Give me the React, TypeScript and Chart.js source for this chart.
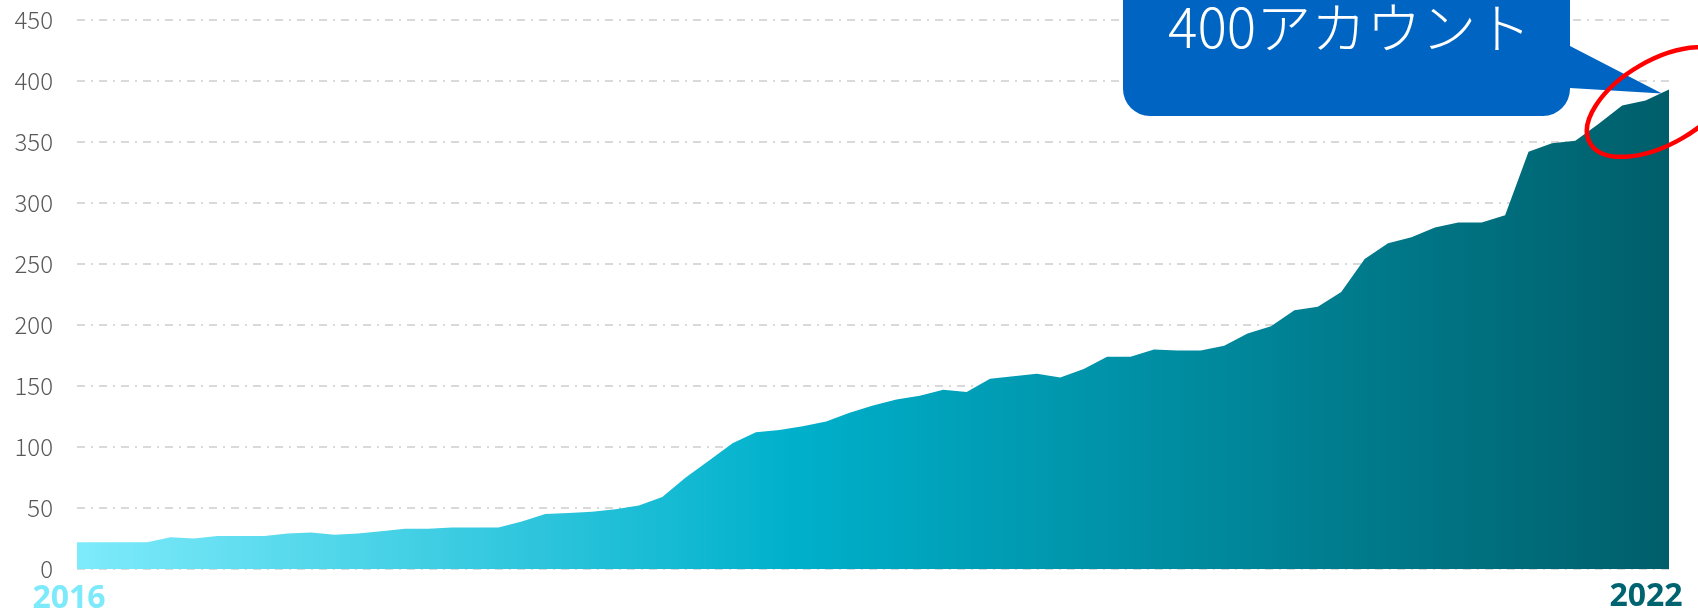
import React, { useEffect, useRef } from "react";
import { Chart, registerables } from "chart.js";

Chart.register(...registerables);

const accounts: number[] = [
  22, 22, 22, 22, 26, 25, 27, 27, 27, 29,
  30, 28, 29, 31, 33, 33, 34, 34, 34, 39,
  45, 46, 47, 49, 52, 59, 75, 89, 103, 112,
  114, 117, 121, 128, 134, 139, 142, 147, 145, 156,
  158, 160, 157, 164, 174, 174, 180, 179, 179, 183,
  193, 199, 212, 215, 227, 254, 267, 272, 280, 284,
  284, 290, 342, 349, 351, 365, 380, 384, 393,
];
const months: string[] = accounts.map((_, i) => `m${i + 1}`);
const startYear = "2016";
const endYear = "2022";
const calloutText = "400アカウント";
const yTicks: number[] = [0, 50, 100, 150, 200, 250, 300, 350, 400, 450];

const overlayPlugin = {
  id: "overlay",
  afterDraw(chart: any) {
    const { ctx, chartArea } = chart;
    const xs = chart.scales.x;
    const ys = chart.scales.y;
    ctx.save();
    // year labels
    ctx.font = "bold 32px 'Noto Sans', sans-serif";
    ctx.textAlign = "center";
    ctx.textBaseline = "alphabetic";
    ctx.fillStyle = "#7DEAFB";
    ctx.fillText(startYear, chartArea.left - 8, 608);
    ctx.fillStyle = "#006470";
    ctx.fillText(endYear, chartArea.right - 23, 606);

    // callout
    const lastX = xs.getPixelForValue(accounts.length - 1);
    const lastY = ys.getPixelForValue(accounts[accounts.length - 1]);
    const bx0 = 1123, bx1 = 1570, by0 = -40, by1 = 116, r = 27;
    ctx.fillStyle = "#0064C3";
    ctx.beginPath();
    ctx.moveTo(bx0, by0);
    ctx.lineTo(bx1, by0);
    ctx.lineTo(bx1, 46);
    ctx.lineTo(lastX - 7, lastY + 4);
    ctx.lineTo(bx1, 88);
    ctx.lineTo(bx1, by1 - r);
    ctx.arcTo(bx1, by1, bx1 - r, by1, r);
    ctx.lineTo(bx0 + r, by1);
    ctx.arcTo(bx0, by1, bx0, by1 - r, r);
    ctx.closePath();
    ctx.fill();

    ctx.fillStyle = "#FFFFFF";
    ctx.font = "300 55px 'Noto Sans CJK JP', sans-serif";
    ctx.textAlign = "left";
    ctx.fillText(calloutText, 1168, 48);

    // red ellipse
    ctx.strokeStyle = "#FF0000";
    ctx.lineWidth = 4.5;
    ctx.beginPath();
    ctx.ellipse(1661, 102, 82, 42, -Math.PI / 6, 0, Math.PI * 2);
    ctx.stroke();
    ctx.restore();
  },
};

export default function App() {
  const ref = useRef<HTMLCanvasElement>(null);
  useEffect(() => {
    if (!ref.current) return;
    const chart = new Chart(ref.current, {
      type: "line",
      data: {
        labels: months,
        datasets: [
          {
            data: accounts,
            fill: "origin",
            borderWidth: 0,
            pointRadius: 0,
            tension: 0,
            backgroundColor: (c: any) => {
              const ca = c.chart.chartArea;
              if (!ca) return "#00B0CB";
              const g = c.chart.ctx.createLinearGradient(ca.left, 0, ca.right, 0);
              g.addColorStop(0, "#7EEBFB");
              g.addColorStop(0.45, "#00B0CB");
              g.addColorStop(1, "#005E6A");
              return g;
            },
          },
        ],
      },
      options: {
        animation: false,
        responsive: false,
        layout: { padding: { left: 0, right: 29, top: 20, bottom: 44 } },
        plugins: { legend: { display: false }, tooltip: { enabled: false } },
        scales: {
          x: { display: false, offset: false },
          y: {
            min: 0,
            max: 450,
            afterFit: (s: any) => {
              s.width = 77;
              s.paddingTop = 0;
              s.paddingBottom = 0;
            },
            afterBuildTicks: (s: any) => {
              s.ticks = yTicks.map((v) => ({ value: v }));
            },
            ticks: {
              padding: 24,
              color: "#595959",
              font: { family: "'Noto Sans CJK JP', sans-serif", size: 24, weight: "300" as any },
            },
            grid: { color: "#D9D9D9", lineWidth: 2, drawTicks: false },
            border: { display: false, dash: [8, 6, 2, 6] },
          },
        },
      },
      plugins: [overlayPlugin],
    });
    return () => chart.destroy();
  }, []);
  return (
    <div style={{ position: "fixed", left: 0, top: 0, width: 1698, height: 613, background: "#fff" }}>
      <canvas ref={ref} width={1698} height={613} style={{ width: 1698, height: 613 }} />
    </div>
  );
}
